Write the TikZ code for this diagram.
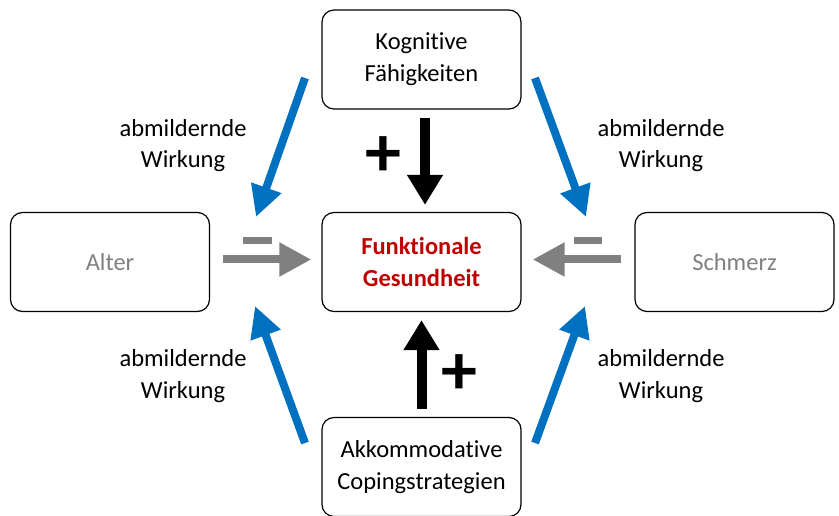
\documentclass[tikz,border=0pt]{standalone}
\usepackage{fontspec}
\setmainfont{Carlito}[Ligatures=NoCommon]
\usepackage{tikz}
\usetikzlibrary{arrows.meta}
\usetikzlibrary{positioning}

\definecolor{wirkblau}{RGB}{0,112,192}
\definecolor{dunkelrot}{RGB}{192,0,0}
\definecolor{grau}{RGB}{128,128,128}

\begin{document}
\begin{tikzpicture}[x=1pt, y=-1pt,
	box/.style={draw, line width=1.2pt, rounded corners=12pt, minimum width=199pt, minimum height=99pt, align=center, inner sep=0pt, font=\fontsize{24.5}{32}\selectfont},
	txt/.style={align=center, font=\fontsize{24.5}{31.5}\selectfont},
	zeichen/.style={font=\fontsize{72}{72}\selectfont\bfseries, inner sep=0pt},
	schwarz/.style={line width=10pt, -{Triangle[width=34pt, length=30pt]}},
	grauer/.style={grau, line width=8pt, -{Triangle[width=32pt, length=32pt]}},
	blauer/.style={wirkblau, line width=8pt, -{Triangle[width=30pt, length=31pt]}}]
	\useasboundingbox (0,0) rectangle (839,516);
	\node[box] (Kog) at (421.5,59.5) {Kognitive\\Fähigkeiten};
	\node[box, text=dunkelrot, font=\fontsize{24.5}{32}\selectfont\bfseries] (Ges) at (421.5,262) {Funktionale\\Gesundheit};
	\node[box] (Cop) at (421.5,467) {Akkommodative\\Copingstrategien};
	\node[box, text=grau] (Alt) at (110,262) {Alter};
	\node[box, text=grau] (Sch) at (734.5,262) {Schmerz};
	% positive Effekte
	\draw[schwarz, shorten <=8pt, shorten >=7pt] ([xshift=3.5pt]Kog.south) -- ([xshift=3.5pt]Ges.north);
	\draw[schwarz, shorten <=8pt, shorten >=8pt] (Cop.north) -- (Ges.south);
	\node[zeichen] (plusoben) at (383.5,157) {+};
	\node[zeichen] (plusunten) at (459,375) {+};
	% negative Effekte
	\draw[grauer, shorten <=13pt, shorten >=10pt] ([yshift=2.5pt]Alt.east) -- ([yshift=2.5pt]Ges.west);
	\draw[grauer, shorten <=13pt, shorten >=11pt] ([yshift=2.5pt]Sch.west) -- ([yshift=2.5pt]Ges.east);
	\fill[grau] (243,237) rectangle (272,244);
	\fill[grau] (574,237) rectangle (602,244);
	% abmildernde Wirkung
	\coordinate (ol) at (305,78);
	\coordinate (or) at (535,78);
	\coordinate (ul) at (305,443);
	\coordinate (ur) at (535,443);
	\coordinate (zl1) at (256,217);
	\coordinate (zr1) at (586,217);
	\coordinate (zl2) at (255,306);
	\coordinate (zr2) at (585,306);
	\draw[blauer] (ol) -- (zl1);
	\draw[blauer] (or) -- (zr1);
	\draw[blauer] (ul) -- (zl2);
	\draw[blauer] (ur) -- (zr2);
	\node[txt] (wol) at (183,145.5) {abmildernde\\Wirkung};
	\node[txt] (wor) at (661,145.5) {abmildernde\\Wirkung};
	\node[txt] (wul) at (183,376) {abmildernde\\Wirkung};
	\node[txt] (wur) at (661,376) {abmildernde\\Wirkung};
\end{tikzpicture}
\end{document}
